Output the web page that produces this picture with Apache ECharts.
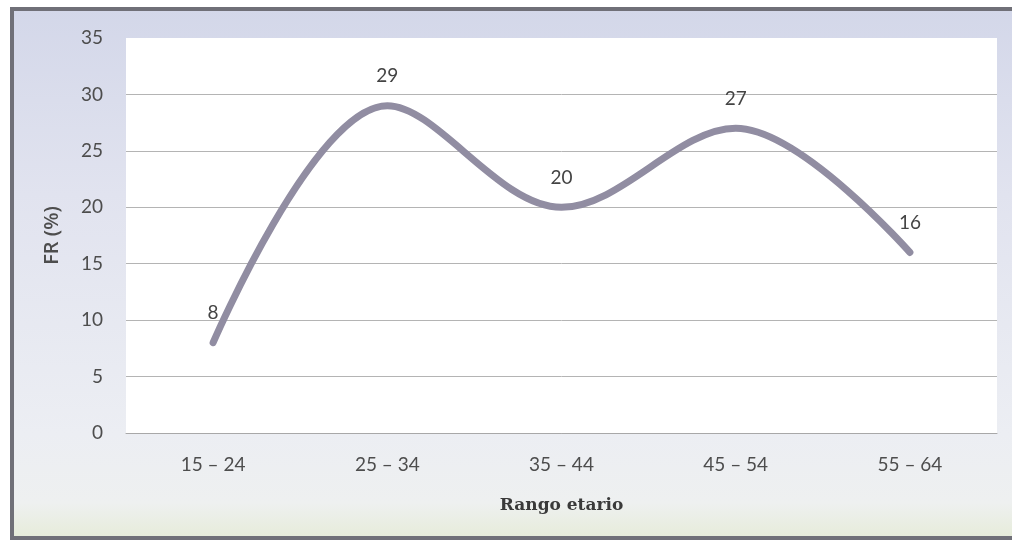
<!DOCTYPE html>
<html>
<head>
<meta charset="utf-8">
<script src="https://cdn.jsdelivr.net/npm/echarts@6/dist/echarts.min.js"></script>
<style>
  html, body { margin: 0; padding: 0; background: #ffffff; }
  #chart { width: 1012px; height: 541px; }
</style>
</head>
<body>
<div id="chart"></div>
<script>
// Age ranges and FR share per range
const categories = ['15 – 24', '25 – 34', '35 – 44', '45 – 54', '55 – 64'];
const frValues = [8, 29, 20, 27, 16];
const yTicks = { min: 0, max: 35, step: 5 };

const chart = echarts.init(document.getElementById('chart'), null, { renderer: 'canvas' });

const tickFont = { fontFamily: 'Lato, "Open Sans", sans-serif', fontSize: 19, color: '#4d4d4d' };

chart.setOption({
  animation: false,
  backgroundColor: 'transparent',
  graphic: [
    {
      type: 'rect',
      z: -10,
      shape: { x: 12, y: 9, width: 1002, height: 529 },
      style: {
        fill: new echarts.graphic.LinearGradient(0, 0, 0, 1, [
          { offset: 0, color: '#d3d7e9' },
          { offset: 0.35, color: '#e1e3ef' },
          { offset: 0.8, color: '#eceef3' },
          { offset: 0.93, color: '#eef0f0' },
          { offset: 1, color: '#e6ecd8' }
        ]),
        stroke: '#707078',
        lineWidth: 4
      }
    }
  ],
  grid: {
    left: 126, right: 15, top: 38, bottom: 108,
    show: true, backgroundColor: '#ffffff', borderWidth: 0
  },
  xAxis: {
    type: 'category',
    data: categories,
    boundaryGap: true,
    name: 'Rango etario',
    nameLocation: 'middle',
    nameGap: 64,
    nameTextStyle: {
      fontFamily: '"DejaVu Serif", "Liberation Serif", serif',
      fontWeight: 'bold', fontSize: 17, color: '#3a3a3a'
    },
    axisLine: { lineStyle: { color: '#a8a8a8', width: 1 } },
    axisTick: { show: false },
    axisLabel: Object.assign({ margin: 22 }, tickFont)
  },
  yAxis: {
    type: 'value',
    min: yTicks.min, max: yTicks.max, interval: yTicks.step,
    name: 'FR (%)',
    nameLocation: 'middle',
    nameGap: 64,
    nameTextStyle: {
      fontFamily: '"Open Sans", Lato, sans-serif',
      fontWeight: 600, fontSize: 20, color: '#4d4d4d'
    },
    axisLine: { show: false },
    axisTick: { show: false },
    axisLabel: Object.assign({ margin: 23 }, tickFont),
    splitLine: {
      lineStyle: {
        color: ['#b4b4b4', '#b4b4b4', '#b4b4b4', '#b4b4b4', '#b4b4b4', '#b4b4b4', '#b4b4b4', 'rgba(0,0,0,0)'],
        width: 1
      }
    }
  },
  series: [{
    type: 'line',
    data: frValues,
    smooth: 0.35,
    symbol: 'circle',
    symbolSize: 0,
    showSymbol: true,
    itemStyle: { color: '#918da2' },
    lineStyle: { color: '#918da2', width: 7, cap: 'round' },
    label: {
      show: true,
      position: 'top',
      distance: 20,
      fontFamily: 'Lato, "Open Sans", sans-serif',
      fontSize: 19,
      color: '#444444'
    }
  }]
});
</script>
</body>
</html>
